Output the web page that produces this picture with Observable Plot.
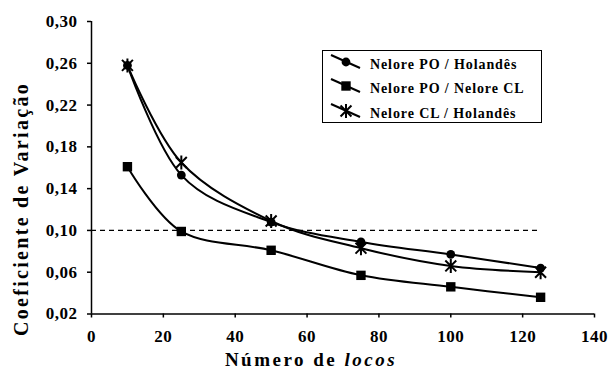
<!DOCTYPE html>
<html>
<head>
<meta charset="utf-8">
<script src="https://cdn.jsdelivr.net/npm/d3@7"></script>
<script src="https://cdn.jsdelivr.net/npm/@observablehq/plot@0.6"></script>
<style>
  html, body { margin: 0; padding: 0; background: white; }
</style>
</head>
<body>
<div id="chart"></div>
<script>
// ---- data ----
const locos = [10, 25, 50, 75, 100, 125];
const seriesNames = ["Nelore PO / Holandês", "Nelore PO / Nelore CL", "Nelore CL / Holandês"];
const poHolandes = [0.258, 0.153, 0.108, 0.089, 0.077, 0.064];
const poNeloreCL = [0.161, 0.099, 0.081, 0.057, 0.046, 0.036];
const clHolandes = [0.258, 0.165, 0.109, 0.083, 0.066, 0.060];
const xTicks = [0, 20, 40, 60, 80, 100, 120, 140];
const yTicks = [0.02, 0.06, 0.10, 0.14, 0.18, 0.22, 0.26, 0.30];
const refValue = [0.10];
const refSpan = [0, 125];
const xTitle = ["Número de ", "locos"];
const yTitle = "Coeficiente de Variação";

const seriesValues = [poHolandes, poNeloreCL, clHolandes];
const rows = [];
seriesValues.forEach((vals, si) => vals.forEach((v, i) => rows.push({s: seriesNames[si], x: locos[i], y: v})));
const ref = refValue.map(v => ({y: v, x1: refSpan[0], x2: refSpan[1]}));

// Excel-like star marker: vertical line + X
const star = {
  draw(context, size) {
    const r = Math.sqrt(size / Math.PI);
    const d = r * 0.78;
    context.moveTo(0, -r); context.lineTo(0, r);
    context.moveTo(-d, -d); context.lineTo(d, d);
    context.moveTo(-d, d); context.lineTo(d, -d);
  }
};

const font = "Liberation Serif, Times New Roman, serif";
const fmt = d => d.toFixed(2).replace(".", ",");

const svg = Plot.plot({
  width: 612,
  height: 372,
  marginLeft: 91,
  marginRight: 18,
  marginTop: 21,
  marginBottom: 58.5,
  style: {fontSize: "17px", fontWeight: "bold", color: "black", background: "white", overflow: "visible", letterSpacing: "0.5px"},
  x: {domain: [0, 140]},
  y: {domain: [0.02, 0.30]},
  marks: [
    Plot.axisX({ticks: xTicks, tickSize: 4, tickPadding: 12, tickFormat: d => d, label: null, strokeWidth: 1.5}),
    Plot.axisY({ticks: yTicks, tickSize: 4, tickPadding: 10, tickFormat: fmt, label: null, strokeWidth: 1.5}),
    Plot.ruleX([0], {strokeWidth: 1.5}),
    Plot.ruleY([0.02], {strokeWidth: 1.5}),
    Plot.ruleY(ref, {y: "y", x1: "x1", x2: "x2", strokeDasharray: "5,4", strokeWidth: 1.3}),
    Plot.line(rows, {x: "x", y: "y", z: "s", curve: "cardinal", stroke: "black", strokeWidth: 2}),
    Plot.dot(rows.filter(d => d.s === seriesNames[0]), {x: "x", y: "y", symbol: "circle", r: 4.4, fill: "black", stroke: "none"}),
    Plot.dot(rows.filter(d => d.s === seriesNames[1]), {x: "x", y: "y", symbol: "square", r: 5.3, fill: "black", stroke: "none"}),
    Plot.dot(rows.filter(d => d.s === seriesNames[2]), {x: "x", y: "y", symbol: star, r: 7, fill: "none", stroke: "black", strokeWidth: 2})
  ]
});

document.getElementById("chart").appendChild(svg);

const s = d3.select(svg);
s.style("font-family", null);
s.attr("font-family", font);
s.selectAll("text").attr("font-family", font).style("font-family", null);

// axis titles
const xt = s.append("text")
  .attr("x", 311).attr("y", 366)
  .attr("text-anchor", "middle")
  .attr("font-family", font).attr("font-size", 19).attr("font-weight", "bold")
  .style("letter-spacing", "2.5px").attr("fill", "black");
xt.append("tspan").text(xTitle[0]);
xt.append("tspan").attr("font-style", "italic").text(xTitle[1]);

s.append("text")
  .attr("transform", "translate(28,209) rotate(-90)")
  .attr("text-anchor", "middle")
  .attr("font-family", font).attr("font-size", 20).attr("font-weight", "bold")
  .style("letter-spacing", "2.3px").attr("fill", "black")
  .text(yTitle);

// legend
const lg = s.append("g");
lg.append("rect").attr("x", 322.5).attr("y", 50.5).attr("width", 219).attr("height", 72)
  .attr("fill", "white").attr("stroke", "black").attr("stroke-width", 1);
const rowsY = [62, 86, 111];
const symGens = [
  d3.symbol(d3.symbolCircle, Math.PI * 4.4 * 4.4),
  d3.symbol(d3.symbolSquare, Math.PI * 5.3 * 5.3),
  d3.symbol(star, Math.PI * 7 * 7)
];
seriesNames.forEach((name, i) => {
  const c = rowsY[i];
  lg.append("line").attr("x1", 331).attr("y1", c - 7).attr("x2", 360).attr("y2", c + 6)
    .attr("stroke", "black").attr("stroke-width", 2);
  const p = lg.append("path").attr("d", symGens[i]()).attr("transform", `translate(346,${c})`);
  if (i === 2) p.attr("fill", "none").attr("stroke", "black").attr("stroke-width", 2);
  else p.attr("fill", "black");
  lg.append("text").attr("x", 370).attr("y", c + 6.5).attr("text-anchor", "start")
    .attr("font-family", font).attr("font-size", 14).attr("font-weight", "bold")
    .style("letter-spacing", "0.9px").attr("fill", "black").text(name);
});
</script>
</body>
</html>
